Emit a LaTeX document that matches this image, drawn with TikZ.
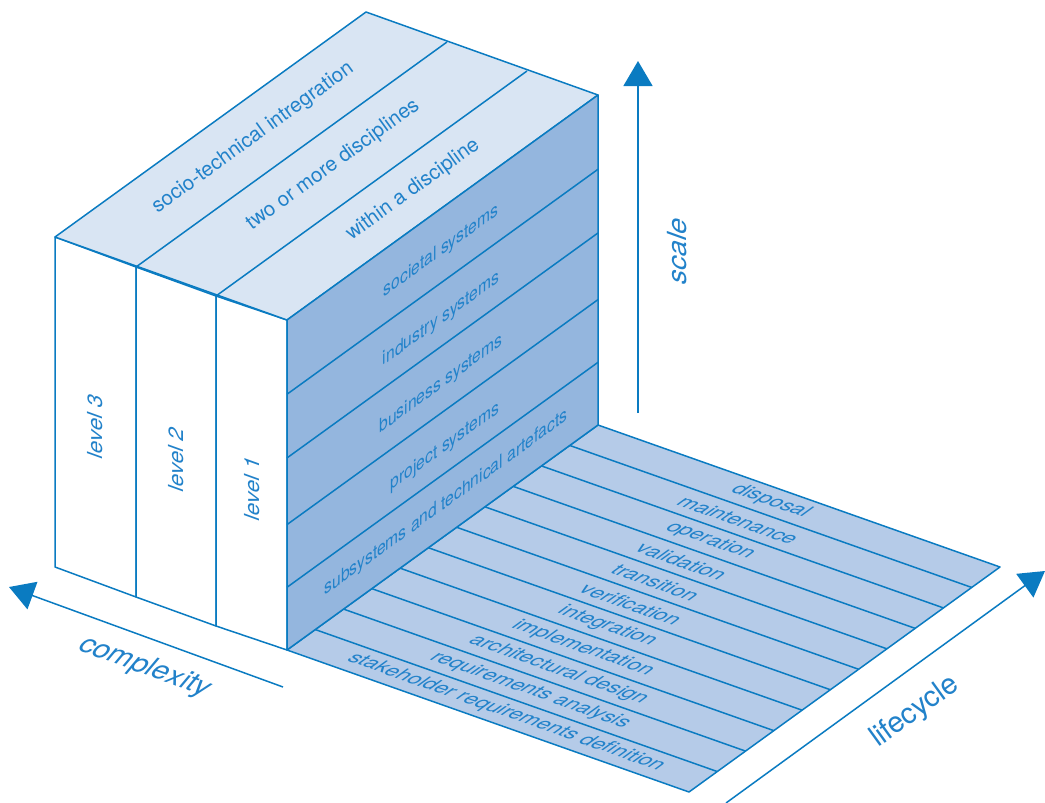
\documentclass[tikz,border=0pt]{standalone}
\usepackage{fontspec}
\setmainfont{TeX Gyre Heros}
\usetikzlibrary{arrows.meta,calc}
\definecolor{ln}{HTML}{0A7BC1}
\definecolor{txt}{HTML}{2282CA}
\definecolor{topf}{HTML}{D9E5F3}
\definecolor{frontf}{HTML}{94B6DE}
\definecolor{floorf}{HTML}{B5CBE8}
\newcommand\floorlabel[4]{\node[floorlab] (#1) at ({287+(#2+0.5)*28.2727+#3*402},{650-(#2+0.5)*20.4545+#3*142}) {#4};}
\begin{document}
\begin{tikzpicture}[x=1pt,y=-1pt,
  edge/.style={draw=ln, line width=1.5pt, line join=round},
  axisarrow/.style={draw=ln, line width=1.5pt, -{Triangle[length=25pt,width=29pt]}},
  lab/.style={text=txt, inner sep=0pt},
  toplab/.style={lab, font=\fontsize{20.5}{20.5}\selectfont, rotate=35.88},
  frontlab/.style={lab, font=\fontsize{19.3}{19.3}\selectfont, cm={0.8103,0.5862,0,1,(0,0)}},
  sidelab/.style={lab, font=\fontsize{22}{22}\selectfont, cm={0,1,-0.9409,0.3387,(0,0)}},
  floorlab/.style={lab, font=\fontsize{21.3}{21.3}\selectfont, cm={0.9430,-0.3332,0.8103,0.5862,(0,0)}},
  axislab/.style={lab, font=\fontsize{29}{29}\selectfont}]
\useasboundingbox (0,0) rectangle (1045,803);
% floor
\coordinate (O) at (287,650); \coordinate (Ob) at (598,425);
\coordinate (Fr) at (1000,567); \coordinate (Fl) at (689,792);
\fill[floorf] (O) -- (Ob) -- (Fr) -- (Fl) -- cycle;
\foreach \k in {1,...,10} \draw[edge] ($(O)!\k/11!(Ob)$) -- ($(Fl)!\k/11!(Fr)$);
\draw[edge] (O) -- (Ob) -- (Fr) -- (Fl) -- cycle;
% box corners
\coordinate (T0) at (287,320); \coordinate (T1) at (216,296);
\coordinate (T2) at (136,267); \coordinate (T3) at (55,237);
\coordinate (B0) at (287,650); \coordinate (B1) at (216,626);
\coordinate (B2) at (136,597); \coordinate (B3) at (55,567);
\coordinate (U0) at (598,95); \coordinate (U1) at (527,71);
\coordinate (U2) at (447,42); \coordinate (U3) at (366,12);
% side faces
\draw[edge, fill=white] (T3) -- (T2) -- (B2) -- (B3) -- cycle;
\draw[edge, fill=white] (T2) -- (T1) -- (B1) -- (B2) -- cycle;
\draw[edge, fill=white] (T1) -- (T0) -- (B0) -- (B1) -- cycle;
% top
\draw[edge, fill=topf] (T3) -- (U3) -- (U0) -- (T0) -- cycle;
\draw[edge] (T2) -- (U2); \draw[edge] (T1) -- (U1);
% front
\draw[edge, fill=frontf] (T0) -- (U0) -- (Ob) -- (B0) -- cycle;
\foreach \f in {0.225,0.418,0.62,0.81}
  \draw[edge] ($(T0)!\f!(B0)$) -- ($(U0)!\f!(Ob)$);
% axes
\coordinate (sc0) at (638,413); \coordinate (sc1) at (638,61);
\coordinate (cx0) at (283,687); \coordinate (cx1) at (9,587);
\coordinate (lc0) at (726,803); \coordinate (lc1) at (1045,571);
\draw[axisarrow] (sc0) -- (sc1);
\draw[axisarrow] (cx0) -- (cx1);
\draw[axisarrow] (lc0) -- (lc1);
\node[axislab, font=\fontsize{28}{28}\selectfont, cm={0,1,-0.9409,0.3387,(0,0)}] (scale) at (677,250) {scale};
\node[axislab, cm={0.9394,-0.3428,0.6428,0.7660,(0,0)}] (complexity) at (145,667) {complexity};
\node[axislab, rotate=35.88] (lifecycle) at (915,712) {lifecycle};
% top labels
\node[toplab] (l3top) at (253,138) {socio-technical intregration};
\node[toplab] (l2top) at (333,165) {two or more disciplines};
\node[toplab] (l1top) at (413,190) {within a discipline};
% side labels
\node[sidelab] (lv3) at (95,426) {level 3};
\node[sidelab] (lv2) at (176,459) {level 2};
\node[sidelab] (lv1) at (252,488) {level 1};
% front labels
\node[frontlab] (soc) at (441,251) {societal systems};
\node[frontlab] (ind) at (441,319) {industry systems};
\node[frontlab] (bus) at (441,384) {business systems};
\node[frontlab] (prj) at (445,447) {project systems};
\node[frontlab] (sub) at (446,503) {subsystems and technical artefacts};
% floor labels
\floorlabel{f0}{0}{0.51}{stakeholder requirements definition}
\floorlabel{f1}{1}{0.50}{requirements analysis}
\floorlabel{f2}{2}{0.50}{architectural design}
\floorlabel{f3}{3}{0.49}{implementation}
\floorlabel{f4}{4}{0.48}{integration}
\floorlabel{f5}{5}{0.47}{verification}
\floorlabel{f6}{6}{0.46}{transition}
\floorlabel{f7}{7}{0.455}{validation}
\floorlabel{f8}{8}{0.455}{operation}
\floorlabel{f9}{9}{0.455}{maintenance}
\floorlabel{f10}{10}{0.465}{disposal}
\end{tikzpicture}
\end{document}
